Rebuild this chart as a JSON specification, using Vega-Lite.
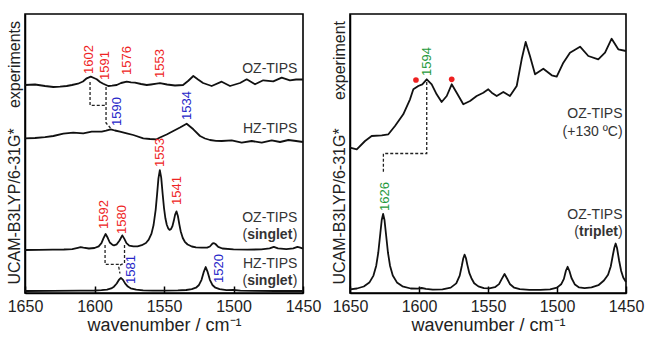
{
 "$schema": "https://vega.github.io/schema/vega-lite/v6.json",
 "background": "white",
 "padding": {"left": 5, "top": 13, "right": 0, "bottom": 0},
 "autosize": {"type": "pad"},
 "spacing": 47,
 "bounds": "flush",
 "config": {
  "view": {"stroke": "#000", "strokeWidth": 1.6},
  "axis": {"domainColor": "#000", "domainWidth": 1.5, "tickColor": "#000", "labelFont": "Liberation Sans", "titleFont": "Liberation Sans", "labelColor": "#222", "titleColor": "#222", "grid": false, "labelOverlap": false},
  "text": {"font": "Liberation Sans"}
 },
 "datasets": {
  "spec": [
   {"p":"L","s":"a","x":1650,"y":208},{"p":"L","s":"a","x":1642.8,"y":208.5},{"p":"L","s":"a","x":1635.6,"y":207},{"p":"L","s":"a","x":1629.6,"y":206},{"p":"L","s":"a","x":1624.8,"y":206.3},{"p":"L","s":"a","x":1620,"y":207},{"p":"L","s":"a","x":1616.2,"y":208},{"p":"L","s":"a","x":1611.9,"y":209.3},{"p":"L","s":"a","x":1608.3,"y":211.5},{"p":"L","s":"a","x":1605.6,"y":214.7},{"p":"L","s":"a","x":1602.7,"y":216.3},{"p":"L","s":"a","x":1600.4,"y":215},{"p":"L","s":"a","x":1598.4,"y":213.7},{"p":"L","s":"a","x":1596,"y":211},{"p":"L","s":"a","x":1593.7,"y":209.3},{"p":"L","s":"a","x":1590.1,"y":207},{"p":"L","s":"a","x":1587.4,"y":207.3},{"p":"L","s":"a","x":1584,"y":208},{"p":"L","s":"a","x":1580.9,"y":210},{"p":"L","s":"a","x":1576.8,"y":211.3},{"p":"L","s":"a","x":1573.7,"y":210.6},{"p":"L","s":"a","x":1570.9,"y":210.3},{"p":"L","s":"a","x":1566.5,"y":209},{"p":"L","s":"a","x":1562.4,"y":208},{"p":"L","s":"a","x":1559.4,"y":208.5},{"p":"L","s":"a","x":1555.3,"y":209.3},{"p":"L","s":"a","x":1552.9,"y":209.8},{"p":"L","s":"a","x":1547.8,"y":208.5},{"p":"L","s":"a","x":1542.1,"y":207.5},{"p":"L","s":"a","x":1536.3,"y":208},{"p":"L","s":"a","x":1532.7,"y":212},{"p":"L","s":"a","x":1528.9,"y":217},{"p":"L","s":"a","x":1525.5,"y":213.5},{"p":"L","s":"a","x":1521.9,"y":210},{"p":"L","s":"a","x":1515.7,"y":207},{"p":"L","s":"a","x":1508.5,"y":211.3},{"p":"L","s":"a","x":1502.5,"y":207},{"p":"L","s":"a","x":1495.3,"y":210},{"p":"L","s":"a","x":1490.5,"y":213.7},{"p":"L","s":"a","x":1484.5,"y":208.7},{"p":"L","s":"a","x":1478.6,"y":212.7},{"p":"L","s":"a","x":1471.4,"y":211.7},{"p":"L","s":"a","x":1465.3,"y":215.3},{"p":"L","s":"a","x":1459.4,"y":212.7},{"p":"L","s":"a","x":1455,"y":213.5},{"p":"L","s":"a","x":1450,"y":213.5},
   {"p":"L","s":"b","x":1650,"y":154.7},{"p":"L","s":"b","x":1642.8,"y":155},{"p":"L","s":"b","x":1635.6,"y":155.8},{"p":"L","s":"b","x":1629.6,"y":157},{"p":"L","s":"b","x":1622.4,"y":159.3},{"p":"L","s":"b","x":1615.3,"y":160.3},{"p":"L","s":"b","x":1608.1,"y":159.7},{"p":"L","s":"b","x":1602,"y":161.3},{"p":"L","s":"b","x":1594.8,"y":161.3},{"p":"L","s":"b","x":1591.7,"y":162.3},{"p":"L","s":"b","x":1588.3,"y":163.7},{"p":"L","s":"b","x":1585.3,"y":162.5},{"p":"L","s":"b","x":1581.7,"y":161.3},{"p":"L","s":"b","x":1576.8,"y":159.7},{"p":"L","s":"b","x":1572.1,"y":158},{"p":"L","s":"b","x":1564.9,"y":154.7},{"p":"L","s":"b","x":1560.1,"y":154},{"p":"L","s":"b","x":1555.3,"y":153.7},{"p":"L","s":"b","x":1552.9,"y":155.5},{"p":"L","s":"b","x":1548.1,"y":158.5},{"p":"L","s":"b","x":1543.3,"y":162},{"p":"L","s":"b","x":1538.5,"y":165.5},{"p":"L","s":"b","x":1533.7,"y":169.3},{"p":"L","s":"b","x":1531.3,"y":166.5},{"p":"L","s":"b","x":1528.9,"y":163.7},{"p":"L","s":"b","x":1524.1,"y":157},{"p":"L","s":"b","x":1520.5,"y":154.5},{"p":"L","s":"b","x":1516.9,"y":153},{"p":"L","s":"b","x":1512.6,"y":152.2},{"p":"L","s":"b","x":1508.5,"y":152},{"p":"L","s":"b","x":1501.3,"y":152.7},{"p":"L","s":"b","x":1494.1,"y":150.3},{"p":"L","s":"b","x":1486.9,"y":152},{"p":"L","s":"b","x":1479.7,"y":150.3},{"p":"L","s":"b","x":1472.5,"y":152.7},{"p":"L","s":"b","x":1466.5,"y":151},{"p":"L","s":"b","x":1460.5,"y":153},{"p":"L","s":"b","x":1455,"y":152},{"p":"L","s":"b","x":1450,"y":151},
   {"p":"L","s":"c","x":1650,"y":43},{"p":"L","s":"c","x":1640,"y":43.2},{"p":"L","s":"c","x":1630,"y":43.4},{"p":"L","s":"c","x":1622,"y":43.5},{"p":"L","s":"c","x":1616,"y":43.9},{"p":"L","s":"c","x":1612,"y":45.2},{"p":"L","s":"c","x":1610,"y":45.9},{"p":"L","s":"c","x":1608,"y":45.3},{"p":"L","s":"c","x":1604,"y":44.5},{"p":"L","s":"c","x":1600,"y":45},{"p":"L","s":"c","x":1597,"y":46.7},{"p":"L","s":"c","x":1595,"y":49.8},{"p":"L","s":"c","x":1593.5,"y":54.9},{"p":"L","s":"c","x":1592,"y":59},{"p":"L","s":"c","x":1590.5,"y":55.2},{"p":"L","s":"c","x":1589,"y":50.5},{"p":"L","s":"c","x":1587,"y":48.1},{"p":"L","s":"c","x":1586,"y":47.7},{"p":"L","s":"c","x":1584,"y":48.7},{"p":"L","s":"c","x":1582,"y":52.5},{"p":"L","s":"c","x":1580,"y":57.6},{"p":"L","s":"c","x":1578.5,"y":54.1},{"p":"L","s":"c","x":1577,"y":49.9},{"p":"L","s":"c","x":1575,"y":47.3},{"p":"L","s":"c","x":1572,"y":46.6},{"p":"L","s":"c","x":1569,"y":46.6},{"p":"L","s":"c","x":1566,"y":47.8},{"p":"L","s":"c","x":1563,"y":50},{"p":"L","s":"c","x":1561,"y":53.3},{"p":"L","s":"c","x":1559,"y":59.4},{"p":"L","s":"c","x":1557.5,"y":68},{"p":"L","s":"c","x":1556,"y":83.2},{"p":"L","s":"c","x":1555,"y":98.3},{"p":"L","s":"c","x":1554,"y":114.6},{"p":"L","s":"c","x":1553,"y":122.8},{"p":"L","s":"c","x":1552,"y":115.3},{"p":"L","s":"c","x":1551,"y":99.5},{"p":"L","s":"c","x":1550,"y":85},{"p":"L","s":"c","x":1549,"y":74.7},{"p":"L","s":"c","x":1548,"y":68.3},{"p":"L","s":"c","x":1547,"y":64.7},{"p":"L","s":"c","x":1546,"y":63.2},{"p":"L","s":"c","x":1545,"y":63.8},{"p":"L","s":"c","x":1544,"y":66.6},{"p":"L","s":"c","x":1543,"y":71.9},{"p":"L","s":"c","x":1542,"y":78.4},{"p":"L","s":"c","x":1541,"y":81.6},{"p":"L","s":"c","x":1540,"y":77},{"p":"L","s":"c","x":1539,"y":68.9},{"p":"L","s":"c","x":1538,"y":61.8},{"p":"L","s":"c","x":1536.5,"y":55},{"p":"L","s":"c","x":1535,"y":51.2},{"p":"L","s":"c","x":1533,"y":48.5},{"p":"L","s":"c","x":1530,"y":46.5},{"p":"L","s":"c","x":1527,"y":45.6},{"p":"L","s":"c","x":1523,"y":45.3},{"p":"L","s":"c","x":1519,"y":45.3},{"p":"L","s":"c","x":1517,"y":46.5},{"p":"L","s":"c","x":1515,"y":49.6},{"p":"L","s":"c","x":1514,"y":49.8},{"p":"L","s":"c","x":1513,"y":49},{"p":"L","s":"c","x":1511,"y":46.2},{"p":"L","s":"c","x":1508,"y":44.5},{"p":"L","s":"c","x":1500,"y":43.7},{"p":"L","s":"c","x":1490,"y":43.4},{"p":"L","s":"c","x":1480,"y":43.6},{"p":"L","s":"c","x":1474,"y":44.7},{"p":"L","s":"c","x":1471,"y":46.2},{"p":"L","s":"c","x":1468,"y":44.7},{"p":"L","s":"c","x":1462,"y":43.8},{"p":"L","s":"c","x":1457,"y":44.7},{"p":"L","s":"c","x":1454,"y":46.2},{"p":"L","s":"c","x":1452,"y":45.3},{"p":"L","s":"c","x":1450,"y":44.3},
   {"p":"L","s":"d","x":1650,"y":2},{"p":"L","s":"d","x":1630,"y":2.2},{"p":"L","s":"d","x":1610,"y":2.3},{"p":"L","s":"d","x":1600,"y":2.5},{"p":"L","s":"d","x":1595,"y":2.8},{"p":"L","s":"d","x":1591,"y":3.4},{"p":"L","s":"d","x":1588,"y":4.6},{"p":"L","s":"d","x":1586,"y":6.3},{"p":"L","s":"d","x":1584,"y":9.5},{"p":"L","s":"d","x":1582.5,"y":13},{"p":"L","s":"d","x":1581,"y":15.1},{"p":"L","s":"d","x":1579.5,"y":13.1},{"p":"L","s":"d","x":1578,"y":9.6},{"p":"L","s":"d","x":1576,"y":6.4},{"p":"L","s":"d","x":1574,"y":4.7},{"p":"L","s":"d","x":1570,"y":3.3},{"p":"L","s":"d","x":1565,"y":2.7},{"p":"L","s":"d","x":1558,"y":2.4},{"p":"L","s":"d","x":1550,"y":2.4},{"p":"L","s":"d","x":1540,"y":2.6},{"p":"L","s":"d","x":1534,"y":3},{"p":"L","s":"d","x":1530,"y":3.8},{"p":"L","s":"d","x":1527,"y":5.3},{"p":"L","s":"d","x":1525,"y":7.7},{"p":"L","s":"d","x":1523,"y":13.2},{"p":"L","s":"d","x":1521.5,"y":20.6},{"p":"L","s":"d","x":1520,"y":26},{"p":"L","s":"d","x":1518.5,"y":20.6},{"p":"L","s":"d","x":1517,"y":13.2},{"p":"L","s":"d","x":1515,"y":7.7},{"p":"L","s":"d","x":1513,"y":5.3},{"p":"L","s":"d","x":1510,"y":3.8},{"p":"L","s":"d","x":1505,"y":2.8},{"p":"L","s":"d","x":1500,"y":3},{"p":"L","s":"d","x":1495,"y":2.3},{"p":"L","s":"d","x":1485,"y":2.1},{"p":"L","s":"d","x":1470,"y":2},{"p":"L","s":"d","x":1450,"y":2},
   {"p":"R","s":"e","x":1650,"y":145.3},{"p":"R","s":"e","x":1645.1,"y":143.7},{"p":"R","s":"e","x":1639.1,"y":152},{"p":"R","s":"e","x":1634.3,"y":157},{"p":"R","s":"e","x":1627,"y":157.7},{"p":"R","s":"e","x":1622.2,"y":158.7},{"p":"R","s":"e","x":1617.4,"y":167},{"p":"R","s":"e","x":1611.4,"y":178.7},{"p":"R","s":"e","x":1606.5,"y":193.7},{"p":"R","s":"e","x":1604.1,"y":203.7},{"p":"R","s":"e","x":1600.5,"y":207},{"p":"R","s":"e","x":1597.6,"y":208.7},{"p":"R","s":"e","x":1594.4,"y":213.7},{"p":"R","s":"e","x":1590.8,"y":208.7},{"p":"R","s":"e","x":1587.2,"y":198.7},{"p":"R","s":"e","x":1583.6,"y":191},{"p":"R","s":"e","x":1579.9,"y":197},{"p":"R","s":"e","x":1576.3,"y":208.7},{"p":"R","s":"e","x":1572.7,"y":200.3},{"p":"R","s":"e","x":1567.9,"y":188.7},{"p":"R","s":"e","x":1563,"y":192},{"p":"R","s":"e","x":1558.2,"y":197},{"p":"R","s":"e","x":1553.4,"y":200.3},{"p":"R","s":"e","x":1549.8,"y":203.7},{"p":"R","s":"e","x":1547.3,"y":200.3},{"p":"R","s":"e","x":1543.7,"y":197},{"p":"R","s":"e","x":1538.9,"y":201},{"p":"R","s":"e","x":1534.1,"y":197},{"p":"R","s":"e","x":1529.2,"y":207},{"p":"R","s":"e","x":1525.6,"y":233.7},{"p":"R","s":"e","x":1522.7,"y":251},{"p":"R","s":"e","x":1519.6,"y":237},{"p":"R","s":"e","x":1515.9,"y":218.7},{"p":"R","s":"e","x":1509.9,"y":224.3},{"p":"R","s":"e","x":1503.8,"y":217.7},{"p":"R","s":"e","x":1500.2,"y":216.3},{"p":"R","s":"e","x":1495.4,"y":230.3},{"p":"R","s":"e","x":1490.6,"y":240.3},{"p":"R","s":"e","x":1483.3,"y":246.3},{"p":"R","s":"e","x":1477.3,"y":237},{"p":"R","s":"e","x":1470.1,"y":233.7},{"p":"R","s":"e","x":1465.2,"y":240.3},{"p":"R","s":"e","x":1460.4,"y":254.3},{"p":"R","s":"e","x":1455.6,"y":243.7},{"p":"R","s":"e","x":1450,"y":242},
   {"p":"R","s":"f","x":1650,"y":3.6},{"p":"R","s":"f","x":1645,"y":4.5},{"p":"R","s":"f","x":1640,"y":6.5},{"p":"R","s":"f","x":1636,"y":10.4},{"p":"R","s":"f","x":1633,"y":17.4},{"p":"R","s":"f","x":1631,"y":27.3},{"p":"R","s":"f","x":1629.5,"y":40.5},{"p":"R","s":"f","x":1628,"y":60},{"p":"R","s":"f","x":1627,"y":73},{"p":"R","s":"f","x":1626,"y":79},{"p":"R","s":"f","x":1625,"y":73},{"p":"R","s":"f","x":1624,"y":60},{"p":"R","s":"f","x":1622.5,"y":40.5},{"p":"R","s":"f","x":1621,"y":27.3},{"p":"R","s":"f","x":1619,"y":17.5},{"p":"R","s":"f","x":1616,"y":10.6},{"p":"R","s":"f","x":1612,"y":6.7},{"p":"R","s":"f","x":1606,"y":4.5},{"p":"R","s":"f","x":1601,"y":4.4},{"p":"R","s":"f","x":1598,"y":5},{"p":"R","s":"f","x":1595,"y":4.1},{"p":"R","s":"f","x":1590,"y":3.3},{"p":"R","s":"f","x":1583,"y":3.7},{"p":"R","s":"f","x":1577,"y":5.4},{"p":"R","s":"f","x":1573,"y":9.6},{"p":"R","s":"f","x":1570.5,"y":17.4},{"p":"R","s":"f","x":1569,"y":27},{"p":"R","s":"f","x":1568,"y":34.2},{"p":"R","s":"f","x":1567,"y":38.3},{"p":"R","s":"f","x":1566,"y":35},{"p":"R","s":"f","x":1565,"y":28.4},{"p":"R","s":"f","x":1563.5,"y":19.8},{"p":"R","s":"f","x":1562,"y":14.8},{"p":"R","s":"f","x":1560,"y":9.8},{"p":"R","s":"f","x":1557,"y":6.6},{"p":"R","s":"f","x":1553,"y":4.8},{"p":"R","s":"f","x":1549,"y":4.7},{"p":"R","s":"f","x":1545,"y":5.8},{"p":"R","s":"f","x":1542,"y":8.9},{"p":"R","s":"f","x":1540,"y":14.1},{"p":"R","s":"f","x":1538,"y":19},{"p":"R","s":"f","x":1536,"y":14},{"p":"R","s":"f","x":1534,"y":8.7},{"p":"R","s":"f","x":1531,"y":5.3},{"p":"R","s":"f","x":1527,"y":3.8},{"p":"R","s":"f","x":1520,"y":3.2},{"p":"R","s":"f","x":1512,"y":3.1},{"p":"R","s":"f","x":1505,"y":3.7},{"p":"R","s":"f","x":1500,"y":5.4},{"p":"R","s":"f","x":1497,"y":8.7},{"p":"R","s":"f","x":1495,"y":14.1},{"p":"R","s":"f","x":1493.5,"y":22.5},{"p":"R","s":"f","x":1492.3,"y":26.2},{"p":"R","s":"f","x":1491,"y":22},{"p":"R","s":"f","x":1489.5,"y":15},{"p":"R","s":"f","x":1487,"y":8.4},{"p":"R","s":"f","x":1484,"y":5.6},{"p":"R","s":"f","x":1480,"y":4.8},{"p":"R","s":"f","x":1475,"y":5.6},{"p":"R","s":"f","x":1470,"y":7.8},{"p":"R","s":"f","x":1466,"y":12.5},{"p":"R","s":"f","x":1463,"y":18.3},{"p":"R","s":"f","x":1461,"y":26.8},{"p":"R","s":"f","x":1459.5,"y":38},{"p":"R","s":"f","x":1458.5,"y":45},{"p":"R","s":"f","x":1457.5,"y":49.5},{"p":"R","s":"f","x":1456.5,"y":45},{"p":"R","s":"f","x":1455,"y":32.5},{"p":"R","s":"f","x":1453.5,"y":22},{"p":"R","s":"f","x":1452,"y":15.5},{"p":"R","s":"f","x":1450,"y":11}
  ],
  "con": [
   {"p":"L","g":"a","o":1,"x":1603.2,"y":211},{"p":"L","g":"a","o":2,"x":1603.2,"y":187.7},{"p":"L","g":"a","o":3,"x":1591.7,"y":187.7},
   {"p":"L","g":"b","o":1,"x":1591.7,"y":206},{"p":"L","g":"b","o":2,"x":1591.7,"y":170},{"p":"L","g":"b","o":3,"x":1588.5,"y":165},
   {"p":"L","g":"c","o":1,"x":1592.4,"y":48},{"p":"L","g":"c","o":2,"x":1592.4,"y":28.7},{"p":"L","g":"c","o":3,"x":1582.9,"y":28.7},{"p":"L","g":"c","o":4,"x":1581.7,"y":19.5},
   {"p":"L","g":"d","o":1,"x":1578.4,"y":48},{"p":"L","g":"d","o":2,"x":1578.4,"y":30},{"p":"L","g":"d","o":3,"x":1582.2,"y":27.5},
   {"p":"R","g":"e","o":1,"x":1594.4,"y":211},{"p":"R","g":"e","o":2,"x":1594.4,"y":139.5},{"p":"R","g":"e","o":3,"x":1625.8,"y":139.5},{"p":"R","g":"e","o":4,"x":1625.8,"y":120}
  ],
  "minor": [
   {"x":1640},{"x":1630},{"x":1620},{"x":1610},{"x":1590},{"x":1580},{"x":1570},{"x":1560},{"x":1540},{"x":1530},{"x":1520},{"x":1510},{"x":1490},{"x":1480},{"x":1470},{"x":1460}
  ],
  "lab": [
   {"p":"L","k":"n","x":1604,"y":219,"t":"1602","c":"#ee2424"},
   {"p":"L","k":"n","x":1592.5,"y":213,"t":"1591","c":"#ee2424"},
   {"p":"L","k":"n","x":1576.5,"y":218,"t":"1576","c":"#ee2424"},
   {"p":"L","k":"n","x":1553,"y":215,"t":"1553","c":"#ee2424"},
   {"p":"L","k":"n","x":1584,"y":167,"t":"1590","c":"#2626c8"},
   {"p":"L","k":"n","x":1533.5,"y":173,"t":"1534","c":"#2626c8"},
   {"p":"L","k":"n","x":1553,"y":126,"t":"1553","c":"#ee2424"},
   {"p":"L","k":"n","x":1540.9,"y":88,"t":"1541","c":"#ee2424"},
   {"p":"L","k":"n","x":1593,"y":64,"t":"1592","c":"#ee2424"},
   {"p":"L","k":"n","x":1580,"y":59,"t":"1580","c":"#ee2424"},
   {"p":"L","k":"n","x":1573.5,"y":9,"t":"1581","c":"#2626c8"},
   {"p":"L","k":"n","x":1510.5,"y":10,"t":"1520","c":"#2626c8"},
   {"p":"R","k":"n","x":1594.4,"y":217,"t":"1594","c":"#1f9a3c"},
   {"p":"R","k":"n","x":1625,"y":82,"t":"1626","c":"#1f9a3c"},
   {"p":"L","k":"s","x":1454,"y":224,"t":"OZ-TIPS","c":"#333"},
   {"p":"L","k":"s","x":1454,"y":164,"t":"HZ-TIPS","c":"#333"},
   {"p":"L","k":"s","x":1454,"y":75,"t":"OZ-TIPS","c":"#333"},
   {"p":"L","k":"s","x":1454,"y":58,"t":")","c":"#333"},
   {"p":"L","k":"b","x":1457.7,"y":58,"t":"singlet","c":"#333"},
   {"p":"L","k":"s","x":1490.1,"y":58,"t":"(","c":"#333"},
   {"p":"L","k":"s","x":1454,"y":29,"t":"HZ-TIPS","c":"#333"},
   {"p":"L","k":"s","x":1454,"y":12,"t":")","c":"#333"},
   {"p":"L","k":"b","x":1457.7,"y":12,"t":"singlet","c":"#333"},
   {"p":"L","k":"s","x":1490.1,"y":12,"t":"(","c":"#333"},
   {"p":"R","k":"s","x":1452.5,"y":179,"t":"OZ-TIPS","c":"#333"},
   {"p":"R","k":"s","x":1452.5,"y":161,"t":"(+130 ºC)","c":"#333"},
   {"p":"R","k":"s","x":1452.5,"y":78,"t":"OZ-TIPS","c":"#333"},
   {"p":"R","k":"s","x":1452.5,"y":61,"t":")","c":"#333"},
   {"p":"R","k":"b","x":1455.9,"y":61,"t":"triplet","c":"#333"},
   {"p":"R","k":"s","x":1484.1,"y":61,"t":"(","c":"#333"}
  ],
  "dots": [
   {"p":"R","x":1602.2,"y":213},{"p":"R","x":1576.3,"y":213.7}
  ]
 },
 "hconcat": [
  {
   "width": 278, "height": 279,
   "encoding": {
    "x": {"field": "x", "type": "quantitative", "scale": {"domain": [1450, 1650], "reverse": true, "nice": false, "zero": false},
     "axis": {"title": "wavenumber / cm⁻¹", "titleFontSize": 18, "titleFontWeight": "normal", "titlePadding": 2, "values": [1650, 1600, 1550, 1500, 1450], "format": "d", "tickSize": -7, "tickWidth": 1.5, "labelFontSize": 16, "labelPadding": 12, "labelFlush": false, "labelOverlap": false}},
    "y": {"field": "y", "type": "quantitative", "scale": {"domain": [0, 279], "nice": false, "zero": false},
     "axis": {"title": null, "values": [87, 229], "labelExpr": "datum.value > 150 ? 'experiments' : 'UCAM-B3LYP/6-31G*'", "labelAngle": 270, "labelAlign": "center", "labelBaseline": "bottom", "ticks": false, "labelFontSize": 16, "labelPadding": 3, "labelOverlap": false, "labelFlush": false, "labelBound": false}}
   },
   "layer": [
    {"data": {"name": "spec"}, "transform": [{"filter": "datum.p === 'L'"}],
     "mark": {"type": "line", "color": "#111", "strokeWidth": 1.8, "strokeJoin": "round"},
     "encoding": {"detail": {"field": "s"}}},
    {"data": {"name": "minor"},
     "mark": {"type": "tick", "orient": "vertical", "color": "#000", "size": 8, "thickness": 1.3},
     "encoding": {"y": {"datum": 0}}},
    {"data": {"name": "con"}, "transform": [{"filter": "datum.p === 'L'"}],
     "mark": {"type": "line", "color": "#222", "strokeWidth": 1.3, "strokeDash": [3, 2]},
     "encoding": {"detail": {"field": "g"}, "order": {"field": "o"}}},
    {"data": {"name": "lab"}, "transform": [{"filter": "datum.p === 'L' && datum.k === 'n'"}],
     "mark": {"type": "text", "angle": 270, "align": "left", "baseline": "middle", "fontSize": 13},
     "encoding": {"text": {"field": "t"}, "color": {"field": "c", "type": "nominal", "scale": null}}},
    {"data": {"name": "lab"}, "transform": [{"filter": "datum.p === 'L' && datum.k === 's'"}],
     "mark": {"type": "text", "align": "right", "baseline": "middle", "fontSize": 14},
     "encoding": {"text": {"field": "t"}, "color": {"field": "c", "type": "nominal", "scale": null}}},
    {"data": {"name": "lab"}, "transform": [{"filter": "datum.p === 'L' && datum.k === 'b'"}],
     "mark": {"type": "text", "align": "right", "baseline": "middle", "fontSize": 14, "fontWeight": "bold"},
     "encoding": {"text": {"field": "t"}, "color": {"field": "c", "type": "nominal", "scale": null}}}
   ]
  },
  {
   "width": 276, "height": 279,
   "encoding": {
    "x": {"field": "x", "type": "quantitative", "scale": {"domain": [1450, 1650], "reverse": true, "nice": false, "zero": false},
     "axis": {"title": "wavenumber / cm⁻¹", "titleFontSize": 18, "titleFontWeight": "normal", "titlePadding": 2, "values": [1650, 1600, 1550, 1500, 1450], "format": "d", "tickSize": -7, "tickWidth": 1.5, "labelFontSize": 16, "labelPadding": 12, "labelFlush": false, "labelOverlap": false}},
    "y": {"field": "y", "type": "quantitative", "scale": {"domain": [0, 279], "nice": false, "zero": false},
     "axis": {"title": null, "values": [87, 233], "labelExpr": "datum.value > 150 ? 'experiment' : 'UCAM-B3LYP/6-31G*'", "labelAngle": 270, "labelAlign": "center", "labelBaseline": "bottom", "ticks": false, "labelFontSize": 16, "labelPadding": 3, "labelOverlap": false, "labelFlush": false, "labelBound": false}}
   },
   "layer": [
    {"data": {"name": "spec"}, "transform": [{"filter": "datum.p === 'R'"}],
     "mark": {"type": "line", "color": "#111", "strokeWidth": 1.8, "strokeJoin": "round"},
     "encoding": {"detail": {"field": "s"}}},
    {"data": {"name": "minor"},
     "mark": {"type": "tick", "orient": "vertical", "color": "#000", "size": 8, "thickness": 1.3},
     "encoding": {"y": {"datum": 0}}},
    {"data": {"name": "con"}, "transform": [{"filter": "datum.p === 'R'"}],
     "mark": {"type": "line", "color": "#222", "strokeWidth": 1.3, "strokeDash": [3, 2]},
     "encoding": {"detail": {"field": "g"}, "order": {"field": "o"}}},
    {"data": {"name": "dots"},
     "mark": {"type": "point", "filled": true, "color": "#ee2020", "size": 32, "opacity": 1}},
    {"data": {"name": "lab"}, "transform": [{"filter": "datum.p === 'R' && datum.k === 'n'"}],
     "mark": {"type": "text", "angle": 270, "align": "left", "baseline": "middle", "fontSize": 13},
     "encoding": {"text": {"field": "t"}, "color": {"field": "c", "type": "nominal", "scale": null}}},
    {"data": {"name": "lab"}, "transform": [{"filter": "datum.p === 'R' && datum.k === 's'"}],
     "mark": {"type": "text", "align": "right", "baseline": "middle", "fontSize": 14},
     "encoding": {"text": {"field": "t"}, "color": {"field": "c", "type": "nominal", "scale": null}}},
    {"data": {"name": "lab"}, "transform": [{"filter": "datum.p === 'R' && datum.k === 'b'"}],
     "mark": {"type": "text", "align": "right", "baseline": "middle", "fontSize": 14, "fontWeight": "bold"},
     "encoding": {"text": {"field": "t"}, "color": {"field": "c", "type": "nominal", "scale": null}}}
   ]
  }
 ]
}
